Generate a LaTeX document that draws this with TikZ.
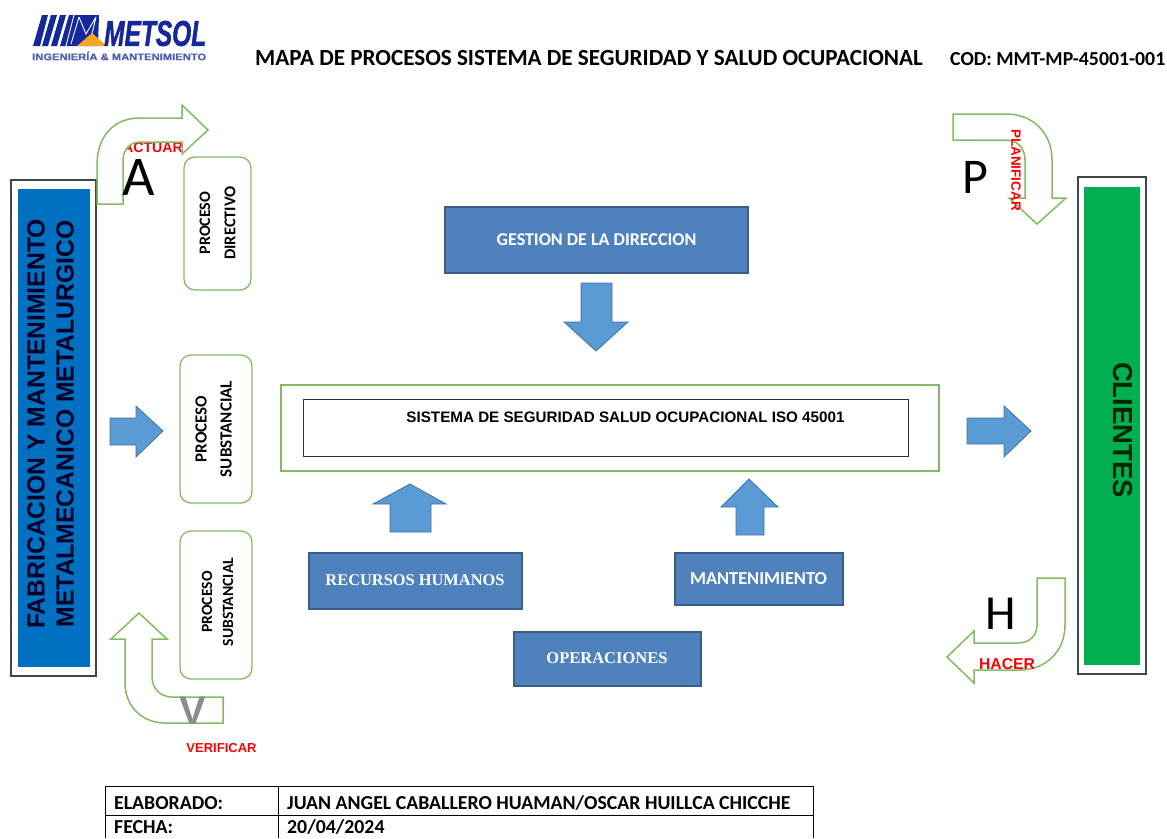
\documentclass[tikz,border=0pt]{standalone}
\usepackage{graphicx}
\usepackage{fontspec}
\setmainfont{Carlito}
\newfontfamily\arialf{Liberation Sans}
\newfontfamily\logof[BoldItalicFeatures={FakeBold=1.6},BoldFeatures={FakeBold=0.6}]{Liberation Sans}
\newfontfamily\timesf{Liberation Serif}
\definecolor{boxblue}{HTML}{4F81BD}
\definecolor{boxedge}{HTML}{385D8A}
\definecolor{arrowblue}{HTML}{5B9BD5}
\definecolor{arrowedge}{HTML}{41719C}
\definecolor{greenedge}{HTML}{84BA64}
\definecolor{leftblue}{HTML}{0070C0}
\definecolor{rightgreen}{HTML}{00B050}
\definecolor{logoblue}{HTML}{14279B}
\definecolor{logoorange}{HTML}{F5A623}
\definecolor{framegray}{HTML}{444444}
\newcommand{\fsz}[1]{\fontsize{#1}{#1}\selectfont}
\tikzset{
  bluebox/.style={draw=boxedge,line width=2pt,fill=boxblue,text=white,font=\bfseries},
  blockarrow/.style={draw=arrowedge,line width=0.8pt,fill=arrowblue},
  bentarrow/.style={draw=greenedge,line width=1.5pt,fill=white,line join=miter},
  greenround/.style={draw=greenedge,line width=1.3pt,rounded corners=11pt,fill=white},
  framebox/.style={draw=framegray,line width=1.2pt,fill=white},
  redlabel/.style={text=red,font=\bfseries},
  biglabel/.style={text=black},
  tableline/.style={draw=black,line width=1pt}
}
\begin{document}
\begin{tikzpicture}[x=1pt,y=-1pt]
\useasboundingbox (0,0) rectangle (1167,838);
% logo
\fill[logoblue] (42,15)--(48,15)--(40,46)--(33,46)--cycle;
\fill[logoblue] (51,15)--(57,15)--(48,46)--(42,46)--cycle;
\fill[logoblue] (60,15)--(66,15)--(57,46)--(51,46)--cycle;
\fill[logoblue] (69,15)--(99,15)--(98,46)--(60,46)--cycle;
\draw[white,line width=0.9pt] (74,15)--(66,46) (79,17)--(71,44) (79,17)--(86,34)--(96,17) (96,17)--(92,34);
\fill[logoorange] (77,46)--(92,33)--(107,46)--cycle;
\node[inner sep=0,anchor=west,text=logoblue,font={\logof\bfseries\itshape\fsz{31}}] (logotext) at (104,33.5) {\resizebox{102pt}{25pt}{METSOL}};
\node[inner sep=0,anchor=west,text=logoblue!75!white,font={\logof\bfseries\fsz{10}}] (logosub) at (32,56) {\resizebox{174pt}{8.5pt}{INGENIERÍA \& MANTENIMIENTO}};
% title
\node[inner sep=0,anchor=west,font={\bfseries\fsz{23.1}}] (title) at (255,58) {MAPA DE PROCESOS SISTEMA DE SEGURIDAD Y SALUD OCUPACIONAL};
\node[inner sep=0,anchor=west,font={\bfseries\fsz{19.8}}] (cod) at (950,59) {COD: MMT-MP-45001-001};
% left frame
\draw[framebox] (11,180) rectangle (96,676);
\fill[leftblue] (18,189) rectangle (90,667);
\node[rotate=90,inner sep=0,font={\arialf\bfseries\fsz{24.7}},text=black!85!blue] (lefta) at (36,424) {FABRICACION Y MANTENIMIENTO};
\node[rotate=90,inner sep=0,font={\arialf\bfseries\fsz{24.7}},text=black!85!blue] (leftb) at (65,424) {METALMECANICO METALURGICO};
% right frame
\draw[framebox] (1078,177) rectangle (1146,674);
\fill[rightgreen] (1084,187) rectangle (1140,665);
\node[rotate=-90,inner sep=0,font={\arialf\bfseries\fsz{27.5}},text=black!85!green] (clientes) at (1123,430) {CLIENTES};
% bent arrows
\node[redlabel,inner sep=0,font={\arialf\bfseries\fsz{14.2}}] (actuar) at (153,148) {ACTUAR};
\draw[bentarrow] (97,204)--(97,165) .. controls (97,138) and (112,118) .. (140,118)--(182,118)--(182,105)--(208,130)--(182,154)--(182,142)--(140,142) .. controls (130,142) and (123,150) .. (123,160)--(123,204)--cycle;
\draw[bentarrow] (953,114)--(1006,114) .. controls (1034,114) and (1052,134) .. (1052,160)--(1052,198)--(1066,198)--(1037,224)--(1009,198)--(1025,198)--(1025,160) .. controls (1025,148) and (1017,140) .. (1006,140)--(953,140)--cycle;
\draw[bentarrow] (1037,578)--(1065,578)--(1065,625) .. controls (1065,652) and (1045,670) .. (1020,670)--(974,670)--(974,683)--(947,657)--(974,631)--(974,643)--(1018,643) .. controls (1030,643) and (1037,635) .. (1037,625)--cycle;
\draw[bentarrow] (223,723)--(223,697)--(172,697) .. controls (160,697) and (152,688) .. (152,677)--(152,639)--(167,639)--(139,613)--(111,639)--(125,639)--(125,683) .. controls (125,706) and (142,723) .. (165,723)--cycle;
% PDCA letters
\node[biglabel,inner sep=0,font={\fsz{56}}] (la) at (139,178) {A};
\node[biglabel,inner sep=0,font={\fsz{50}}] (lp) at (975,177) {P};
\node[biglabel,inner sep=0,font={\fsz{49}}] (lh) at (1001,614) {H};
\node[text=black!45,inner sep=0,font={\arialf\bfseries\fsz{40}}] (lv) at (193,711) {V};
\node[redlabel,inner sep=0,rotate=-90,font={\arialf\bfseries\fsz{13.5}}] (planificar) at (1016,170) {PLANIFICAR};
\node[redlabel,inner sep=0,font={\arialf\bfseries\fsz{15.7}}] (hacer) at (1007,664) {HACER};
\node[redlabel,inner sep=0,font={\arialf\bfseries\fsz{13}}] (verificar) at (221.5,748) {VERIFICAR};
% process boxes
\draw[greenround] (184,157) rectangle (251,290);
\node[rotate=90,inner sep=0,font={\bfseries\fsz{16}}] (pdira) at (205,223) {PROCESO};
\node[rotate=90,inner sep=0,font={\bfseries\fsz{16.4}}] (pdirb) at (230,223) {DIRECTIVO};
\draw[greenround] (180,355) rectangle (252,503);
\node[rotate=90,inner sep=0,font={\bfseries\fsz{17}}] (psa) at (201,429) {PROCESO};
\node[rotate=90,inner sep=0,font={\bfseries\fsz{17}}] (psb) at (226,429) {SUBSTANCIAL};
\draw[greenround] (180,531) rectangle (252,679);
\node[rotate=90,inner sep=0,font={\bfseries\fsz{15.6}}] (psc) at (207,602) {PROCESO};
\node[rotate=90,inner sep=0,font={\bfseries\fsz{15.6}}] (psd) at (228,602) {SUBSTANCIAL};
% blue boxes
\node[bluebox,inner sep=0,minimum width=303pt,minimum height=66pt,font={\bfseries\fsz{18}}] (gestion) at (596.5,240) {GESTION DE LA DIRECCION};
\node[bluebox,inner sep=0,minimum width=213pt,minimum height=56pt,font={\timesf\bfseries\fsz{16.4}}] (recursos) at (415,580.5) {RECURSOS HUMANOS};
\node[bluebox,inner sep=0,minimum width=168pt,minimum height=52pt,font={\bfseries\fsz{18.3}}] (mant) at (758.5,578.5) {MANTENIMIENTO};
\node[bluebox,inner sep=0,minimum width=187pt,minimum height=54pt,font={\timesf\bfseries\fsz{16.5}}] (oper) at (607,658.5) {OPERACIONES};
% system box
\draw[draw=greenedge,line width=1.5pt,fill=white] (281,385) rectangle (939,471);
\draw[draw=black!80,line width=1pt,fill=white] (303,399) rectangle (908,456);
\node[inner sep=0,font={\arialf\bfseries\fsz{15.2}}] (sistema) at (625.5,417) {SISTEMA DE SEGURIDAD SALUD OCUPACIONAL ISO 45001};
% block arrows
\draw[blockarrow] (581,283)--(612,283)--(612,322)--(628,322)--(596,351)--(564,322)--(581,322)--cycle;
\draw[blockarrow] (110,418)--(136,418)--(136,406)--(163,431)--(136,457)--(136,445)--(110,445)--cycle;
\draw[blockarrow] (967,418)--(1004,418)--(1004,406)--(1031,431)--(1004,457)--(1004,444)--(967,444)--cycle;
\draw[blockarrow] (390,532)--(431,532)--(431,504)--(446,504)--(410,484)--(373,504)--(390,504)--cycle;
\draw[blockarrow] (736,535)--(764,535)--(764,507)--(778,507)--(749,479)--(721,507)--(736,507)--cycle;
% table
\draw[tableline] (105,838)--(105,786)--(813,786)--(813,838);
\draw[tableline] (105,815)--(813,815);
\draw[tableline] (278,786)--(278,838);
\node[inner sep=0,anchor=base west,font={\bfseries\fsz{19.8}}] (elab) at (114,809) {ELABORADO:};
\node[inner sep=0,anchor=base west,font={\bfseries\fsz{19.8}}] (names) at (287,809) {JUAN ANGEL CABALLERO HUAMAN/OSCAR HUILLCA CHICCHE};
\node[inner sep=0,anchor=base west,font={\bfseries\fsz{19.8}}] (fecha) at (114,833.5) {FECHA:};
\node[inner sep=0,anchor=base west,font={\bfseries\fsz{19.8}}] (date) at (287,833.5) {20/04/2024};
\end{tikzpicture}
\end{document}
